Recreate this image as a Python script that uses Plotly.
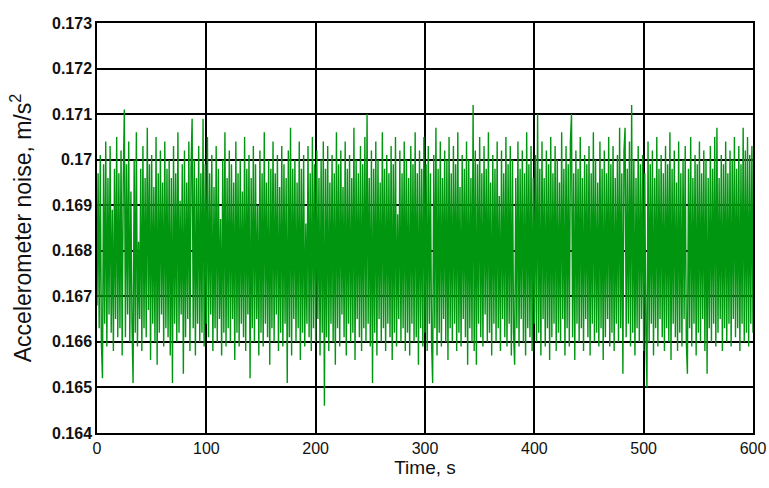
import plotly.graph_objects as go

# Time in seconds (one sample per second)
time_s = list(range(0, 601))

# Accelerometer noise, m/s^2
noise = [
    0.1668, 0.1697, 0.1663, 0.1701, 0.1660, 0.1652, 0.1699, 0.1664, 0.1704, 0.1659, 0.1696, 0.1666, 0.1703, 0.1662, 0.1689, 0.1658, 0.1698, 0.1665, 0.1705, 0.1661,
    0.1697, 0.1663, 0.1702, 0.1657, 0.1695, 0.1711, 0.1661, 0.1699, 0.1666, 0.1704, 0.1660, 0.1693, 0.1664, 0.1651, 0.1700, 0.1662, 0.1706, 0.1659, 0.1682, 0.1665,
    0.1698, 0.1658, 0.1703, 0.1663, 0.1696, 0.1661, 0.1707, 0.1667, 0.1699, 0.1656, 0.1701, 0.1664, 0.1694, 0.1660, 0.1705, 0.1655, 0.1697, 0.1662, 0.1702, 0.1666,
    0.1695, 0.1659, 0.1704, 0.1663, 0.1698, 0.1661, 0.1700, 0.1657, 0.1696, 0.1651, 0.1703, 0.1664, 0.1697, 0.1660, 0.1706, 0.1662, 0.1691, 0.1666, 0.1699, 0.1653,
    0.1702, 0.1661, 0.1695, 0.1665, 0.1704, 0.1658, 0.1698, 0.1709, 0.1663, 0.1700, 0.1657, 0.1696, 0.1664, 0.1703, 0.1660, 0.1697, 0.1662, 0.1709, 0.1659, 0.1699,
    0.1664, 0.1705, 0.1661, 0.1697, 0.1666, 0.1701, 0.1658, 0.1694, 0.1663, 0.1703, 0.1660, 0.1698, 0.1665, 0.1687, 0.1657, 0.1700, 0.1662, 0.1706, 0.1659, 0.1696,
    0.1663, 0.1702, 0.1660, 0.1699, 0.1665, 0.1695, 0.1656, 0.1704, 0.1662, 0.1697, 0.1659, 0.1700, 0.1664, 0.1693, 0.1661, 0.1705, 0.1658, 0.1698, 0.1666, 0.1701,
    0.1652, 0.1696, 0.1663, 0.1703, 0.1660, 0.1699, 0.1665, 0.1690, 0.1657, 0.1702, 0.1662, 0.1697, 0.1659, 0.1706, 0.1664, 0.1695, 0.1661, 0.1700, 0.1655, 0.1698,
    0.1663, 0.1704, 0.1660, 0.1697, 0.1666, 0.1701, 0.1658, 0.1694, 0.1662, 0.1703, 0.1659, 0.1699, 0.1664, 0.1696, 0.1651, 0.1702, 0.1661, 0.1707, 0.1657, 0.1698,
    0.1665, 0.1700, 0.1660, 0.1695, 0.1663, 0.1704, 0.1656, 0.1698, 0.1662, 0.1701, 0.1659, 0.1686, 0.1664, 0.1703, 0.1661, 0.1697, 0.1658, 0.1705, 0.1663, 0.1699,
    0.1660, 0.1702, 0.1665, 0.1696, 0.1657, 0.1700, 0.1662, 0.1704, 0.1646, 0.1698, 0.1661, 0.1703, 0.1658, 0.1695, 0.1664, 0.1701, 0.1660, 0.1697, 0.1655, 0.1706,
    0.1663, 0.1699, 0.1659, 0.1702, 0.1666, 0.1694, 0.1661, 0.1704, 0.1657, 0.1698, 0.1664, 0.1701, 0.1660, 0.1696, 0.1662, 0.1707, 0.1656, 0.1700, 0.1665, 0.1697,
    0.1661, 0.1703, 0.1658, 0.1699, 0.1663, 0.1705, 0.1660, 0.1710, 0.1664, 0.1696, 0.1659, 0.1702, 0.1651, 0.1698, 0.1662, 0.1704, 0.1657, 0.1700, 0.1665, 0.1695,
    0.1660, 0.1706, 0.1663, 0.1698, 0.1658, 0.1701, 0.1664, 0.1697, 0.1661, 0.1703, 0.1656, 0.1699, 0.1662, 0.1705, 0.1659, 0.1688, 0.1665, 0.1702, 0.1660, 0.1697,
    0.1663, 0.1704, 0.1658, 0.1700, 0.1662, 0.1696, 0.1657, 0.1703, 0.1664, 0.1699, 0.1660, 0.1706, 0.1661, 0.1697, 0.1655, 0.1702, 0.1663, 0.1698, 0.1659, 0.1705,
    0.1662, 0.1699, 0.1658, 0.1703, 0.1664, 0.1697, 0.1660, 0.1651, 0.1701, 0.1663, 0.1707, 0.1657, 0.1698, 0.1662, 0.1704, 0.1659, 0.1696, 0.1665, 0.1702, 0.1660,
    0.1700, 0.1656, 0.1705, 0.1663, 0.1697, 0.1660, 0.1703, 0.1664, 0.1699, 0.1658, 0.1706, 0.1662, 0.1694, 0.1659, 0.1701, 0.1665, 0.1698, 0.1661, 0.1704, 0.1655,
    0.1700, 0.1663, 0.1696, 0.1660, 0.1712, 0.1658, 0.1702, 0.1655, 0.1699, 0.1664, 0.1705, 0.1661, 0.1697, 0.1659, 0.1703, 0.1666, 0.1698, 0.1660, 0.1706, 0.1662,
    0.1695, 0.1657, 0.1701, 0.1664, 0.1698, 0.1660, 0.1704, 0.1663, 0.1692, 0.1658, 0.1702, 0.1665, 0.1697, 0.1661, 0.1705, 0.1659, 0.1699, 0.1664, 0.1703, 0.1657,
    0.1700, 0.1662, 0.1655, 0.1696, 0.1663, 0.1704, 0.1659, 0.1698, 0.1665, 0.1702, 0.1660, 0.1697, 0.1657, 0.1706, 0.1663, 0.1699, 0.1661, 0.1703, 0.1658, 0.1696,
    0.1664, 0.1701, 0.1660, 0.1710, 0.1662, 0.1698, 0.1657, 0.1704, 0.1665, 0.1696, 0.1659, 0.1702, 0.1663, 0.1699, 0.1656, 0.1705, 0.1661, 0.1697, 0.1664, 0.1703,
    0.1658, 0.1700, 0.1662, 0.1695, 0.1660, 0.1706, 0.1665, 0.1698, 0.1657, 0.1703, 0.1663, 0.1699, 0.1659, 0.1704, 0.1710, 0.1661, 0.1697, 0.1656, 0.1702, 0.1664,
    0.1698, 0.1660, 0.1705, 0.1663, 0.1696, 0.1658, 0.1701, 0.1665, 0.1699, 0.1661, 0.1703, 0.1657, 0.1697, 0.1664, 0.1706, 0.1660, 0.1700, 0.1662, 0.1695, 0.1659,
    0.1704, 0.1663, 0.1698, 0.1656, 0.1702, 0.1661, 0.1697, 0.1665, 0.1705, 0.1659, 0.1699, 0.1662, 0.1703, 0.1658, 0.1696, 0.1664, 0.1701, 0.1660, 0.1707, 0.1663,
    0.1697, 0.1653, 0.1702, 0.1707, 0.1661, 0.1698, 0.1664, 0.1704, 0.1659, 0.1712, 0.1662, 0.1700, 0.1657, 0.1696, 0.1663, 0.1703, 0.1660, 0.1699, 0.1665, 0.1701,
    0.1658, 0.1697, 0.1662, 0.1650, 0.1704, 0.1660, 0.1699, 0.1664, 0.1702, 0.1657, 0.1696, 0.1663, 0.1705, 0.1659, 0.1698, 0.1665, 0.1701, 0.1661, 0.1697, 0.1658,
    0.1703, 0.1663, 0.1699, 0.1660, 0.1706, 0.1656, 0.1698, 0.1664, 0.1702, 0.1661, 0.1695, 0.1658, 0.1704, 0.1662, 0.1697, 0.1659, 0.1700, 0.1665, 0.1703, 0.1660,
    0.1653, 0.1698, 0.1663, 0.1705, 0.1659, 0.1696, 0.1664, 0.1701, 0.1657, 0.1699, 0.1662, 0.1704, 0.1660, 0.1697, 0.1665, 0.1702, 0.1658, 0.1700, 0.1653, 0.1696,
    0.1663, 0.1703, 0.1660, 0.1698, 0.1664, 0.1705, 0.1659, 0.1707, 0.1662, 0.1696, 0.1665, 0.1701, 0.1658, 0.1699, 0.1663, 0.1704, 0.1660, 0.1697, 0.1664, 0.1702,
    0.1659, 0.1700, 0.1665, 0.1705, 0.1661, 0.1698, 0.1663, 0.1703, 0.1658, 0.1699, 0.1664, 0.1707, 0.1660, 0.1702, 0.1662, 0.1705, 0.1659, 0.1701, 0.1664, 0.1703, 0.1662,
]

x_ticks = [0, 100, 200, 300, 400, 500, 600]
x_tick_labels = ["0", "100", "200", "300", "400", "500", "600"]
y_ticks = [0.164, 0.165, 0.166, 0.167, 0.168, 0.169, 0.170, 0.171, 0.172, 0.173]
y_tick_labels = ["0.164", "0.165", "0.166", "0.167", "0.168", "0.169", "0.17", "0.171", "0.172", "0.173"]

fig = go.Figure()
fig.add_trace(go.Scatter(
    x=time_s, y=noise, mode="lines",
    line=dict(color="rgb(0,150,15)", width=1.4),
    showlegend=False,
))

font_family = "Liberation Sans, Arial, sans-serif"

fig.update_layout(
    width=769, height=488,
    margin=dict(l=97, r=16, t=23, b=55),
    paper_bgcolor="white", plot_bgcolor="white",
    font=dict(family=font_family, color="#111"),
    xaxis=dict(
        range=[0, 600], tickvals=x_ticks, ticktext=x_tick_labels,
        showgrid=True, gridcolor="black", gridwidth=1.5,
        showline=True, linecolor="black", linewidth=1.5, mirror=True,
        zeroline=False, ticks="", automargin=False,
        tickfont=dict(size=16, color="#111"),
        title=dict(text="Time, s", font=dict(size=19, color="#111"), standoff=4),
    ),
    yaxis=dict(
        range=[0.164, 0.173], tickvals=y_ticks, ticktext=y_tick_labels,
        showgrid=True, gridcolor="black", gridwidth=1.5,
        showline=True, linecolor="black", linewidth=1.5, mirror=True,
        zeroline=False, ticks="", automargin=False,
        tickfont=dict(size=16, color="#111", weight="bold"),
        title=dict(text="Accelerometer noise, m/s<sup>2</sup>", font=dict(size=23, color="#111"), standoff=14),
    ),
)

fig.write_html("out.html")
